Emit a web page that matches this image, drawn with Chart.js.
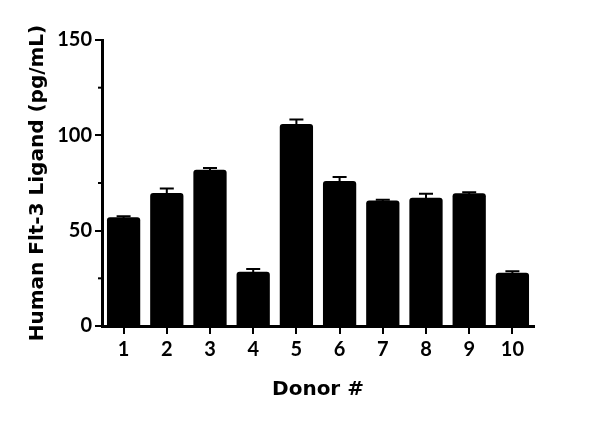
<!DOCTYPE html>
<html>
<head>
<meta charset="utf-8">
<title>Human Flt-3 Ligand by donor</title>
<script src="https://cdn.jsdelivr.net/npm/chart.js@4/dist/chart.umd.min.js"></script>
<style>
    html, body { margin: 0; padding: 0; background: #fff; }
    #wrap { width: 600px; height: 424px; }
</style>
</head>
<body>
<div id="wrap"><canvas id="donorChart" width="600" height="424"></canvas></div>
<script>
'use strict';

// values
const donors = ['1', '2', '3', '4', '5', '6', '7', '8', '9', '10'];
const ligandMeans = [57, 69.8, 82, 28.4, 106, 76, 65.8, 67.2, 69.6, 27.9];
const ligandErrors = [0.5, 2.3, 0.9, 1.5, 2.3, 2.1, 0.4, 2.1, 0.6, 0.8];
const yMajorTicks = [0, 50, 100, 150];
const yMinorTicks = [25, 75, 125];

const TICK_FONT = 'Lato, "DejaVu Sans", sans-serif';
const TITLE_FONT = '"DejaVu Sans", sans-serif';

// SEM whiskers on top of each bar
const errorBars = {
    id: 'errorBars',
    afterDatasetsDraw(chart) {
        const ctx = chart.ctx;
        const y = chart.scales.y;
        const meta = chart.getDatasetMeta(0);
        ctx.save();
        ctx.strokeStyle = '#000';
        ctx.lineWidth = 2;
        meta.data.forEach((bar, i) => {
            const top = y.getPixelForValue(ligandMeans[i] + ligandErrors[i]);
            ctx.beginPath();
            ctx.moveTo(bar.x, bar.y + 2);
            ctx.lineTo(bar.x, top);
            ctx.moveTo(bar.x - 7, top);
            ctx.lineTo(bar.x + 7, top);
            ctx.stroke();
        });
        ctx.restore();
    }
};

// short minor ticks on the y axis
const minorTicks = {
    id: 'minorTicks',
    afterDraw(chart) {
        const ctx = chart.ctx;
        const y = chart.scales.y;
        const x0 = chart.chartArea.left;
        ctx.save();
        ctx.strokeStyle = '#000';
        ctx.lineWidth = 2;
        yMinorTicks.forEach(v => {
            const py = y.getPixelForValue(v);
            ctx.beginPath();
            ctx.moveTo(x0 - 4, py);
            ctx.lineTo(x0, py);
            ctx.stroke();
        });
        ctx.restore();
    }
};

new Chart(document.getElementById('donorChart'), {
    type: 'bar',
    data: {
        labels: donors,
        datasets: [{
            data: ligandMeans,
            backgroundColor: '#000',
            borderRadius: { topLeft: 3, topRight: 3 },
            borderSkipped: 'bottom',
            categoryPercentage: 1,
            barPercentage: 0.77,
        }]
    },
    options: {
        responsive: false,
        animation: false,
        layout: { padding: { top: 40, right: 66, left: 26, bottom: 22 } },
        plugins: {
            legend: { display: false },
            tooltip: { enabled: false }
        },
        scales: {
            x: {
                offset: true,
                grid: {
                    offset: false,
                    drawOnChartArea: false,
                    color: '#000',
                    lineWidth: 2,
                    tickLength: 8
                },
                border: { display: true, color: '#000', width: 3 },
                ticks: {
                    color: '#000',
                    padding: 4,
                    font: { family: TICK_FONT, size: 20, weight: 'bold' }
                },
                title: {
                    display: true,
                    text: 'Donor #',
                    color: '#000',
                    padding: { top: 14, bottom: 0 },
                    font: { family: TITLE_FONT, size: 20, weight: 'bold' }
                },
                afterFit(scale) { scale.height = 424 - 326 - 22; }
            },
            y: {
                min: 0,
                max: 150,
                afterBuildTicks(scale) {
                    scale.ticks = yMajorTicks.map(v => ({ value: v }));
                },
                grid: {
                    drawOnChartArea: false,
                    color: '#000',
                    lineWidth: 2,
                    tickLength: 7
                },
                border: { display: true, color: '#000', width: 3 },
                ticks: {
                    color: '#000',
                    padding: 3,
                    font: { family: TICK_FONT, size: 20, weight: 'bold' }
                },
                title: {
                    display: true,
                    text: 'Human Flt-3 Ligand (pg/mL)',
                    color: '#000',
                    padding: { top: 0, bottom: 6 },
                    font: { family: TITLE_FONT, size: 20, weight: 'bold' }
                },
                afterFit(scale) { scale.width = 102 - 26; }
            }
        }
    },
    plugins: [errorBars, minorTicks]
});
</script>
</body>
</html>
